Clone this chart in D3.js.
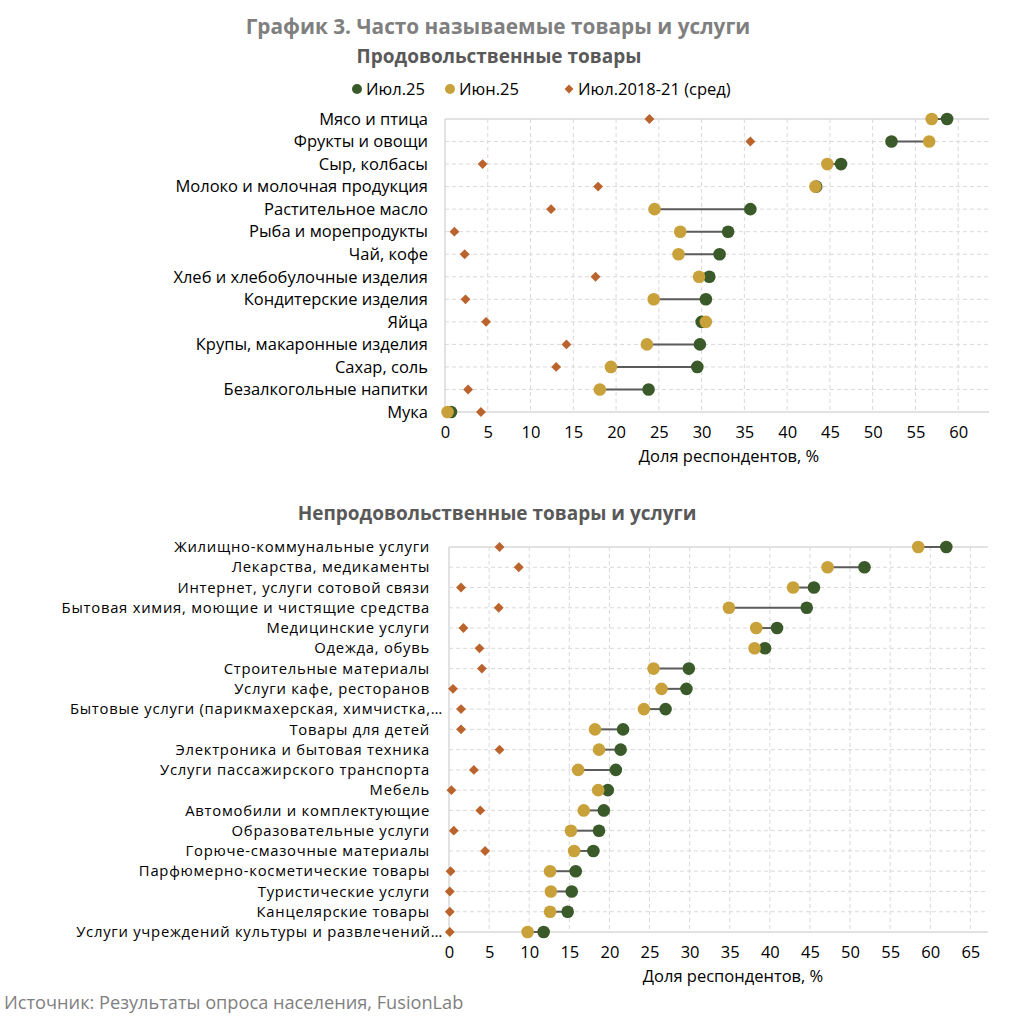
<!DOCTYPE html>
<html>
<head>
<meta charset="utf-8">
<script src="https://cdn.jsdelivr.net/npm/d3@7"></script>
<style>
  body { margin: 0; background: #fff; }
  svg { font-family: "Open Sans", "Noto Sans", sans-serif; }
</style>
</head>
<body>
<svg id="chart" width="1029" height="1034"></svg>
<script>
// Food products
const foodCategories = ["Мясо и птица", "Фрукты и овощи", "Сыр, колбасы", "Молоко и молочная продукция",
  "Растительное масло", "Рыба и морепродукты", "Чай, кофе", "Хлеб и хлебобулочные изделия",
  "Кондитерские изделия", "Яйца", "Крупы, макаронные изделия", "Сахар, соль",
  "Безалкогольные напитки", "Мука"];
const foodJul25 = [58.7, 52.2, 46.3, 43.4, 35.7, 33.1, 32.1, 30.9, 30.5, 30.0, 29.8, 29.5, 23.8, 0.7];
const foodJun25 = [56.9, 56.6, 44.7, 43.3, 24.5, 27.5, 27.3, 29.7, 24.4, 30.5, 23.6, 19.4, 18.1, 0.3];
const foodAvg = [23.9, 35.7, 4.4, 17.9, 12.4, 1.1, 2.3, 17.6, 2.4, 4.8, 14.2, 13.0, 2.7, 4.2];
const foodTicks = [0, 5, 10, 15, 20, 25, 30, 35, 40, 45, 50, 55, 60];

// Non-food goods and services
const nonfoodCategories = ["Жилищно-коммунальные услуги", "Лекарства, медикаменты", "Интернет, услуги сотовой связи",
  "Бытовая химия, моющие и чистящие средства", "Медицинские услуги", "Одежда, обувь",
  "Строительные материалы", "Услуги кафе, ресторанов", "Бытовые услуги (парикмахерская, химчистка,…",
  "Товары для детей", "Электроника и бытовая техника", "Услуги пассажирского транспорта", "Мебель",
  "Автомобили и комплектующие", "Образовательные услуги", "Горюче-смазочные материалы",
  "Парфюмерно-косметические товары", "Туристические услуги", "Канцелярские товары",
  "Услуги учреждений культуры и развлечений…"];
const nonfoodJul25 = [62.0, 51.8, 45.5, 44.6, 40.9, 39.4, 29.9, 29.6, 27.0, 21.7, 21.4, 20.8, 19.8, 19.3, 18.7, 18.0, 15.8, 15.3, 14.8, 11.8];
const nonfoodJun25 = [58.5, 47.2, 42.9, 34.9, 38.3, 38.1, 25.5, 26.5, 24.3, 18.2, 18.7, 16.1, 18.6, 16.8, 15.2, 15.6, 12.6, 12.7, 12.6, 9.8];
const nonfoodAvg = [6.3, 8.7, 1.5, 6.2, 1.8, 3.8, 4.1, 0.5, 1.5, 1.5, 6.3, 3.1, 0.3, 3.9, 0.6, 4.5, 0.2, 0.1, 0.1, 0.1];
const nonfoodTicks = [0, 5, 10, 15, 20, 25, 30, 35, 40, 45, 50, 55, 60, 65];

const seriesNames = ["Июл.25", "Июн.25", "Июл.2018-21 (сред)"];

const colors = {
  jul: "#3b5a2a",
  jun: "#c9a13b",
  avg: "#bb632d",
  link: "#5b5b5b",
  grid: "#d9d9d9",
  title: "#7f7f7f",
  sub: "#595959"
};

const FS = 16.5;

const svg = d3.select("#chart");

svg.append("text")
  .attr("x", 498).attr("y", 27).attr("dy", "0.35em")
  .attr("text-anchor", "middle")
  .attr("font-size", 20.8).attr("font-weight", "bold")
  .attr("fill", colors.title)
  .text("График 3. Часто называемые товары и услуги");

// legend
const legend = svg.append("g").attr("transform", "translate(0,89)");
const legendX = [357, 450, 569];
legendX.forEach((x, i) => {
  if (i < 2) {
    legend.append("circle").attr("cx", x).attr("cy", 0).attr("r", 5)
      .attr("fill", i === 0 ? colors.jul : colors.jun);
  } else {
    legend.append("path").attr("d", d3.symbol(d3.symbolDiamond2, 50)())
      .attr("transform", `translate(${x},0)`).attr("fill", colors.avg);
  }
  legend.append("text").attr("x", x + 9).attr("y", 0).attr("dy", "0.35em")
    .attr("font-size", FS).attr("fill", "#000")
    .text(seriesNames[i]);
});

function drawPanel(opt) {
  const g = svg.append("g");
  const x = d3.scaleLinear().domain([0, opt.xMax]).range([opt.left, opt.right]);
  const y = d3.scalePoint().domain(opt.categories).range([opt.top, opt.bottom]);

  g.append("text")
    .attr("x", opt.titleX).attr("y", opt.titleY).attr("dy", "0.35em")
    .attr("text-anchor", "middle")
    .attr("font-size", 19).attr("font-weight", "bold").attr("fill", colors.sub)
    .text(opt.title);

  // vertical grid
  g.selectAll("line.vgrid").data(opt.ticks.filter(t => t > 0)).join("line")
    .attr("x1", d => x(d)).attr("x2", d => x(d))
    .attr("y1", opt.top).attr("y2", opt.bottom)
    .attr("stroke", colors.grid).attr("stroke-dasharray", "4,3");

  // horizontal grid
  g.selectAll("line.hgrid").data(opt.categories).join("line")
    .attr("x1", opt.left).attr("x2", opt.right)
    .attr("y1", d => y(d)).attr("y2", d => y(d))
    .attr("stroke", colors.grid)
    .attr("stroke-width", (d, i) => (i === 0 || i === opt.categories.length - 1) ? 1.5 : 1)
    .attr("stroke-dasharray", (d, i) => (i === 0 || i === opt.categories.length - 1) ? null : "4,3");

  g.append("line")
    .attr("x1", opt.left).attr("x2", opt.left)
    .attr("y1", opt.top).attr("y2", opt.bottom)
    .attr("stroke", colors.grid).attr("stroke-width", 1.5);

  // x axis labels
  const axis = g.append("g")
    .attr("transform", `translate(0,${opt.bottom + 14})`)
    .call(d3.axisBottom(x).tickValues(opt.ticks).tickSize(0).tickPadding(0));
  axis.select(".domain").remove();
  axis.selectAll("text").attr("font-size", FS).attr("fill", "#000")
    .attr("font-family", "Open Sans, sans-serif");

  g.append("text")
    .attr("x", opt.axisTitleX).attr("y", opt.bottom + 50)
    .attr("text-anchor", "middle").attr("font-size", FS).attr("fill", "#000")
    .text("Доля респондентов, %");

  // category labels
  g.selectAll("text.cat").data(opt.categories).join("text")
    .attr("class", "cat")
    .attr("x", opt.labelX).attr("y", d => y(d)).attr("dy", "0.35em")
    .attr("text-anchor", "end")
    .attr("font-size", opt.labelSize).attr("letter-spacing", opt.labelSpacing)
    .attr("fill", "#000")
    .text(d => d)
    .attr("dx", function (d) {
      // Excel lets the ellipsis run past the label edge
      return d.endsWith("…") ? 13 : 0;
    });

  const rows = opt.categories.map((c, i) => ({ c, jul: opt.jul[i], jun: opt.jun[i], avg: opt.avg[i] }));

  g.selectAll("line.link").data(rows).join("line")
    .attr("x1", d => x(d.jun)).attr("x2", d => x(d.jul))
    .attr("y1", d => y(d.c)).attr("y2", d => y(d.c))
    .attr("stroke", colors.link).attr("stroke-width", 2);

  g.selectAll("path.avg").data(rows).join("path")
    .attr("d", d3.symbol(d3.symbolDiamond2, 62)())
    .attr("transform", d => `translate(${x(d.avg)},${y(d.c)})`)
    .attr("fill", colors.avg);

  g.selectAll("circle.jul").data(rows).join("circle")
    .attr("cx", d => x(d.jul)).attr("cy", d => y(d.c)).attr("r", 6.3)
    .attr("fill", colors.jul);

  g.selectAll("circle.jun").data(rows).join("circle")
    .attr("cx", d => x(d.jun)).attr("cy", d => y(d.c)).attr("r", 6.3)
    .attr("fill", colors.jun);
}

drawPanel({
  title: "Продовольственные товары", titleX: 499, titleY: 56,
  categories: foodCategories, jul: foodJul25, jun: foodJun25, avg: foodAvg, ticks: foodTicks,
  xMax: 63.6, left: 445, right: 989, top: 119, bottom: 412, labelX: 428, axisTitleX: 729,
  labelSize: FS, labelSpacing: 0
});

// rows here are tighter, so the labels get a smaller size with a little tracking
drawPanel({
  title: "Непродовольственные товары и услуги", titleX: 497, titleY: 513,
  categories: nonfoodCategories, jul: nonfoodJul25, jun: nonfoodJun25, avg: nonfoodAvg, ticks: nonfoodTicks,
  xMax: 67.2, left: 449, right: 988, top: 547, bottom: 932, labelX: 430, axisTitleX: 733,
  labelSize: 14.8, labelSpacing: 0.75
});

svg.append("text")
  .attr("x", 4).attr("y", 1003).attr("dy", "0.35em")
  .attr("font-size", 18.2).attr("fill", colors.title)
  .text("Источник: Результаты опроса населения, FusionLab");
</script>
</body>
</html>
